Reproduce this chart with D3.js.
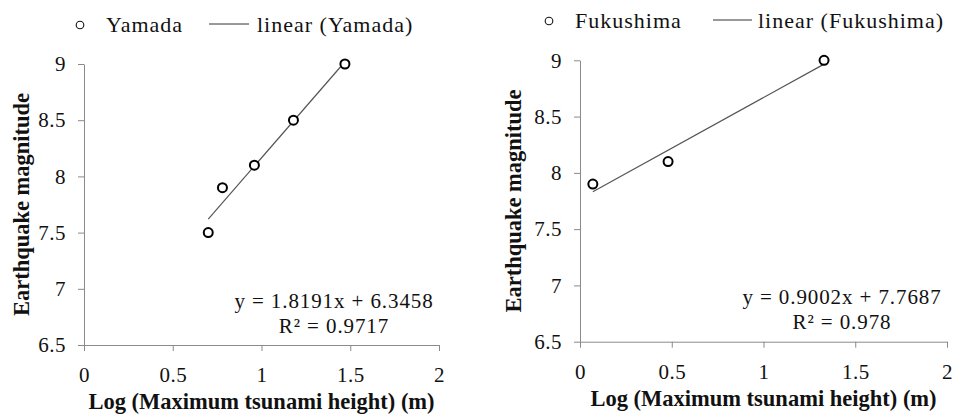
<!DOCTYPE html>
<html>
<head>
<meta charset="utf-8">
<script src="https://cdn.jsdelivr.net/npm/d3@7"></script>
<style>
  html, body { margin: 0; padding: 0; background: #fff; }
  svg { display: block; }
  .axis path, .axis line { stroke: #8a8a8a; stroke-width: 1; }
</style>
</head>
<body>
<svg id="chart" width="954" height="414"></svg>
<script>
// Log10 of maximum tsunami height (m) against earthquake magnitude, by site
const yamadaLogHeight = [0.70, 0.78, 0.96, 1.18, 1.47];
const yamadaMagnitude = [7.5, 7.9, 8.1, 8.5, 9.0];
const fukushimaLogHeight = [0.07, 0.48, 1.33];
const fukushimaMagnitude = [7.9, 8.1, 9.0];

// Least-squares fits as reported on each panel
const fitSlope = [1.8191, 0.9002];
const fitIntercept = [6.3458, 7.7687];
const fitR2 = ["0.9717", "0.978"];

const siteNames = ["Yamada", "Fukushima"];
const xTicks = [0, 0.5, 1, 1.5, 2];
const yTicks = [6.5, 7, 7.5, 8, 8.5, 9];
const xTitle = "Log (Maximum tsunami height) (m)";
const yTitle = "Earthquake magnitude";

const serif = '"Liberation Serif", "Times New Roman", serif';
const ink = "#111";
const svg = d3.select("#chart");

const panels = [
  { name: siteNames[0], xs: yamadaLogHeight, ys: yamadaMagnitude, slope: fitSlope[0], intercept: fitIntercept[0], r2: fitR2[0],
    left: 84, right: 439, top: 64, bottom: 345, titleX: 29,
    legend: { y: 25, dot: 80, text: 106, line0: 209, line1: 249, text2: 257 },
    eq: { x: 334, y: 308 } },
  { name: siteNames[1], xs: fukushimaLogHeight, ys: fukushimaMagnitude, slope: fitSlope[1], intercept: fitIntercept[1], r2: fitR2[1],
    left: 580, right: 947, top: 60.3, bottom: 341.7, titleX: 521,
    legend: { y: 21, dot: 549, text: 575, line0: 713, line1: 752, text2: 758 },
    eq: { x: 842, y: 304 } }
];

function styleTickText(sel) {
  sel.selectAll(".tick text")
    .attr("font-family", serif)
    .attr("font-size", 21)
    .attr("letter-spacing", 0.5)
    .attr("fill", ink);
}

panels.forEach(p => {
  const x = d3.scaleLinear().domain([0, 2]).range([p.left, p.right]);
  const y = d3.scaleLinear().domain([6.5, 9]).range([p.bottom, p.top]);
  const g = svg.append("g");

  // axes
  g.append("g").attr("class", "axis")
    .attr("transform", `translate(0,${p.bottom})`)
    .call(d3.axisBottom(x).tickValues(xTicks).tickFormat(String).tickSize(6).tickSizeOuter(0).tickPadding(16))
    .call(styleTickText);
  g.append("g").attr("class", "axis")
    .attr("transform", `translate(${p.left},0)`)
    .call(d3.axisLeft(y).tickValues(yTicks).tickFormat(String).tickSize(6).tickSizeOuter(0).tickPadding(12))
    .call(styleTickText);

  // axis titles
  g.append("text")
    .attr("x", (p.left + p.right) / 2).attr("y", p.bottom + 64)
    .attr("text-anchor", "middle")
    .attr("font-family", serif).attr("font-weight", "bold").attr("font-size", 22.5)
    .attr("fill", ink)
    .text(xTitle);
  g.append("text")
    .attr("transform", `translate(${p.titleX},${(p.top + p.bottom) / 2}) rotate(-90)`)
    .attr("text-anchor", "middle")
    .attr("font-family", serif).attr("font-weight", "bold").attr("font-size", 22.5)
    .attr("fill", ink)
    .text(yTitle);

  // fitted line over the span of the observations
  const [x0, x1] = d3.extent(p.xs);
  g.append("line")
    .attr("x1", x(x0)).attr("y1", y(p.slope * x0 + p.intercept))
    .attr("x2", x(x1)).attr("y2", y(p.slope * x1 + p.intercept))
    .attr("stroke", "#555").attr("stroke-width", 1.2);

  // observations
  g.selectAll("circle.obs")
    .data(p.xs.map((v, i) => [v, p.ys[i]]))
    .join("circle")
    .attr("class", "obs")
    .attr("cx", d => x(d[0])).attr("cy", d => y(d[1]))
    .attr("r", 4.5)
    .attr("fill", "#fff").attr("stroke", "#000").attr("stroke-width", 2);

  // equation and R²
  const eq = g.append("text")
    .attr("text-anchor", "middle")
    .attr("font-family", serif).attr("font-size", 21).attr("letter-spacing", 0.9)
    .attr("fill", ink);
  eq.append("tspan").attr("x", p.eq.x).attr("y", p.eq.y)
    .text(`y = ${p.slope.toFixed(4)}x + ${p.intercept.toFixed(4)}`);
  eq.append("tspan").attr("x", p.eq.x).attr("y", p.eq.y + 25)
    .text(`R² = ${p.r2}`);

  // legend
  const L = p.legend;
  g.append("circle").attr("cx", L.dot).attr("cy", L.y).attr("r", 3.8)
    .attr("fill", "#fff").attr("stroke", ink).attr("stroke-width", 1.1);
  g.append("text").attr("x", L.text).attr("y", L.y + 7)
    .attr("font-family", serif).attr("font-size", 22).attr("letter-spacing", 1).attr("fill", ink)
    .text(p.name);
  g.append("line").attr("x1", L.line0).attr("x2", L.line1).attr("y1", L.y - 1).attr("y2", L.y - 1)
    .attr("stroke", "#333").attr("stroke-width", 1);
  g.append("text").attr("x", L.text2).attr("y", L.y + 7)
    .attr("font-family", serif).attr("font-size", 22).attr("letter-spacing", 1).attr("fill", ink)
    .text(`linear (${p.name})`);
});
</script>
</body>
</html>
